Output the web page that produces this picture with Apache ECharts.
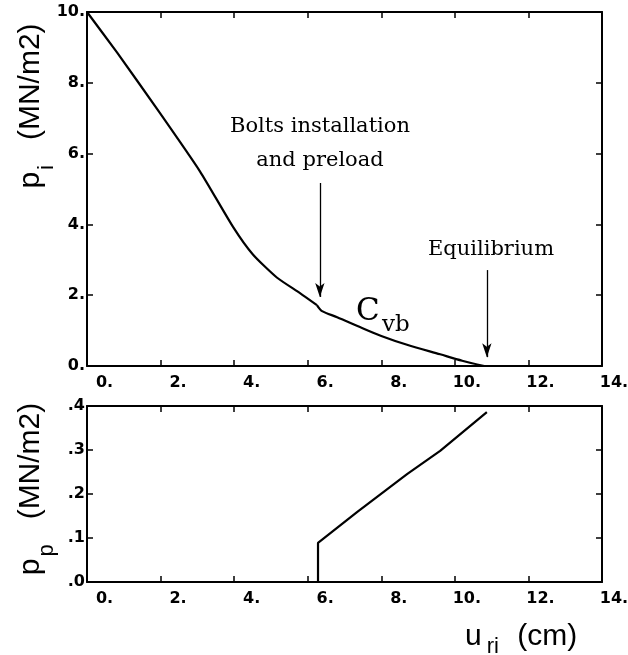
<!DOCTYPE html>
<html>
<head>
<meta charset="utf-8">
<script src="https://cdn.jsdelivr.net/npm/echarts@6/dist/echarts.min.js"></script>
<style>
  html, body { margin: 0; padding: 0; background: #fff; }
  #chart { width: 628px; height: 655px; }
</style>
</head>
<body>
<div id="chart"></div>
<script>
// upper panel: p_i against u_ri, before and after the bolts go in
var uTopA = [0, 0.82, 1.98, 3.07, 3.97, 4.51, 5.16, 5.79, 6.25];
var pTopA = [10, 8.85, 7.15, 5.5, 3.93, 3.15, 2.5, 2.06, 1.72];
var uTopB = [6.25, 6.39, 6.8, 7.42, 8.0, 8.7, 9.6, 10.2, 10.8];
var pTopB = [1.72, 1.55, 1.38, 1.1, 0.85, 0.6, 0.33, 0.15, 0.0];
// lower panel: p_p against u_ri
var uBot = [6.28, 6.28, 7.34, 8.70, 9.60, 10.87];
var pBot = [0, 0.089, 0.159, 0.245, 0.298, 0.386];

// arrows [from, to] in data units of the upper panel
var boltsArrow = [[6.33, 5.17], [6.33, 1.95]];
var eqArrow = [[10.87, 2.71], [10.87, 0.25]];

var tickFont = { fontFamily: 'DejaVu Sans', fontWeight: 'bold', fontSize: 16, color: '#000' };
var black = '#000';

function zip(a, b) {
  return a.map(function (v, i) { return [v, b[i]]; });
}

// labels of the old plot sit right-aligned a little past their tick
function xLabelFmt(v) {
  return '{' + (v >= 10 ? 'd' : 's') + '|' + v + '.}';
}

function bottomX(grid) {
  return {
    type: 'value', gridIndex: grid, min: 0, max: 14, interval: 2, position: 'bottom',
    axisLine: { onZero: false, lineStyle: { color: black, width: 2 } },
    axisTick: { inside: true, length: 6, lineStyle: { color: black, width: 1.5 } },
    splitLine: { show: false },
    axisLabel: {
      margin: 9, formatter: xLabelFmt,
      rich: {
        s: Object.assign({ padding: [0, 0, 0, 35] }, tickFont),
        d: Object.assign({ padding: [0, 0, 0, 24] }, tickFont)
      }
    }
  };
}

function frameAxis(grid, pos, min, max, interval) {
  return {
    type: 'value', gridIndex: grid, min: min, max: max, interval: interval, position: pos,
    axisLine: { onZero: false, lineStyle: { color: black, width: 2 } },
    axisTick: { inside: true, length: 6, lineStyle: { color: black, width: 1.5 } },
    axisLabel: { show: false },
    splitLine: { show: false }
  };
}

function leftY(grid, max, interval, fmt) {
  return {
    type: 'value', gridIndex: grid, min: 0, max: max, interval: interval, position: 'left',
    axisLine: { onZero: false, lineStyle: { color: black, width: 2 } },
    axisTick: { inside: true, length: 6, lineStyle: { color: black, width: 1.5 } },
    splitLine: { show: false },
    axisLabel: Object.assign({ margin: 2, formatter: fmt }, tickFont)
  };
}

function curve(name, xi, data, smooth) {
  return {
    name: name, type: 'line', xAxisIndex: xi, yAxisIndex: xi,
    data: data, showSymbol: false, symbol: 'none', smooth: smooth,
    lineStyle: { color: black, width: 2.2 }
  };
}

function yName(sub, cy) {
  return {
    type: 'text', x: 31, y: cy, rotation: Math.PI / 2,
    style: {
      text: '{p|p}{s|' + sub + '}{n|   (MN/m2)}', align: 'center', verticalAlign: 'middle',
      rich: {
        p: { fontFamily: 'Liberation Sans', fontSize: 30, lineHeight: 30, verticalAlign: 'top', color: black },
        s: { fontFamily: 'Liberation Sans', fontSize: 22, lineHeight: 22, padding: [20, 0, 0, 2], verticalAlign: 'top', color: black },
        n: { fontFamily: 'Liberation Sans', fontSize: 30, lineHeight: 30, verticalAlign: 'top', color: black }
      }
    }
  };
}

var topA = curve('pi', 0, zip(uTopA, pTopA), 0.2);
topA.markLine = {
  silent: true, symbol: ['none', 'arrow'], symbolSize: [7, 14],
  lineStyle: { color: black, width: 1.3, type: 'solid' },
  label: { show: false },
  data: [
    [{ coord: boltsArrow[0] }, { coord: boltsArrow[1] }],
    [{ coord: eqArrow[0] }, { coord: eqArrow[1] }]
  ]
};

var chart = echarts.init(document.getElementById('chart'));
chart.setOption({
  backgroundColor: '#fff',
  animation: false,
  grid: [
    { left: 87, top: 12, width: 515, height: 354, outerBoundsMode: 'none' },
    { left: 87, top: 406, width: 515, height: 176, outerBoundsMode: 'none' }
  ],
  xAxis: [
    bottomX(0),
    frameAxis(0, 'top', 0, 14, 2),
    bottomX(1),
    frameAxis(1, 'top', 0, 14, 2)
  ],
  yAxis: [
    leftY(0, 10, 2, function (v) { return v + '.'; }),
    frameAxis(0, 'right', 0, 10, 2),
    leftY(1, 0.4, 0.1, function (v) { return '.' + Math.round(v * 10); }),
    frameAxis(1, 'right', 0, 0.4, 0.1)
  ],
  series: [
    topA,
    curve('pi2', 0, zip(uTopB, pTopB), 0.3),
    Object.assign(curve('pp', 2, zip(uBot, pBot), false), { yAxisIndex: 2 })
  ],
  graphic: [
    { type: 'text', x: 320, y: 127, style: { text: 'Bolts installation', align: 'center', verticalAlign: 'middle', font: '21px "DejaVu Serif"', fill: black } },
    { type: 'text', x: 320, y: 161, style: { text: 'and preload', align: 'center', verticalAlign: 'middle', font: '21px "DejaVu Serif"', fill: black } },
    { type: 'text', x: 491, y: 250, style: { text: 'Equilibrium', align: 'center', verticalAlign: 'middle', font: '21px "DejaVu Serif"', fill: black } },
    { type: 'text', x: 356, y: 312, style: { text: 'C', align: 'left', verticalAlign: 'middle', font: '31px "DejaVu Serif"', fill: black } },
    { type: 'text', x: 382, y: 325, style: { text: 'vb', align: 'left', verticalAlign: 'middle', font: '23px "DejaVu Serif"', fill: black } },
    yName('i', 106),
    yName('p', 489),
    {
      type: 'text', x: 465, y: 637,
      style: {
        text: '{n|u}{s|ri}{n| (cm)}', align: 'left', verticalAlign: 'middle',
        rich: {
          n: { fontFamily: 'Liberation Sans', fontSize: 30, lineHeight: 30, verticalAlign: 'top', color: black },
          s: { fontFamily: 'Liberation Sans', fontSize: 22, lineHeight: 22, padding: [14, 10, 0, 5], verticalAlign: 'top', color: black }
        }
      }
    }
  ]
});
</script>
</body>
</html>
